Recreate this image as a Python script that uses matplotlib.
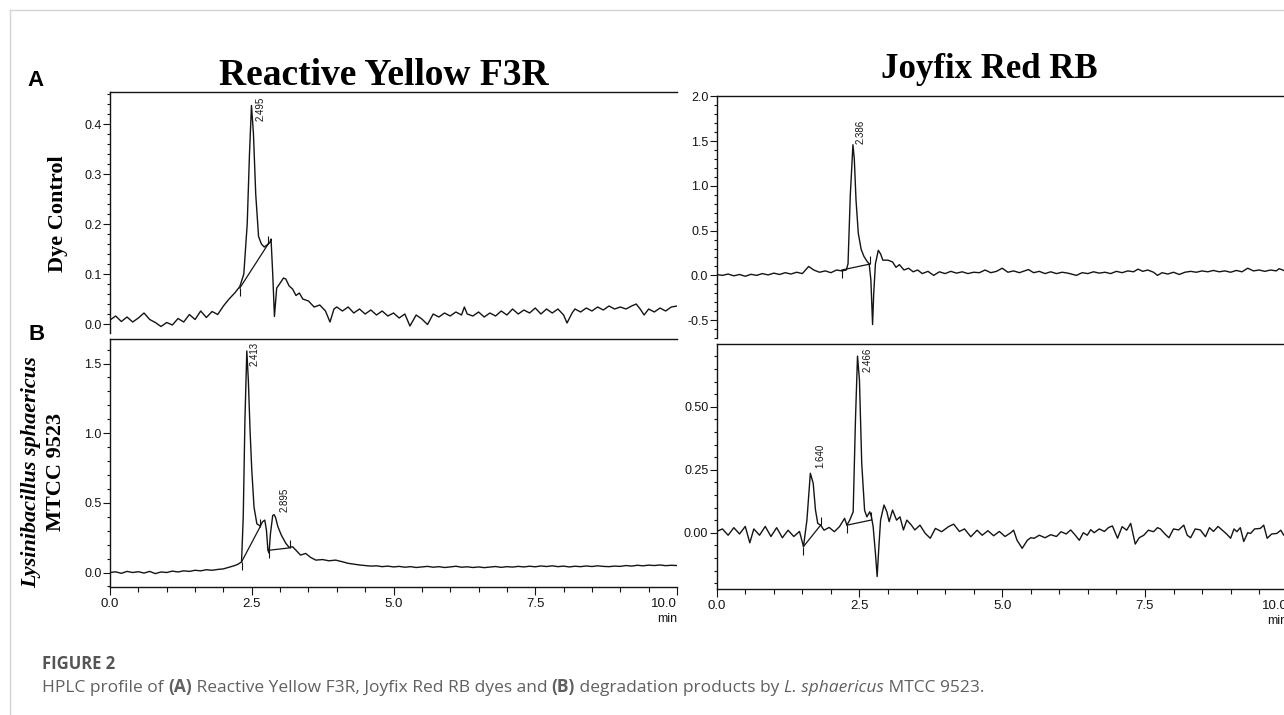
import numpy as np
import matplotlib
matplotlib.use('Agg')
import matplotlib.pyplot as plt
from matplotlib.ticker import MultipleLocator, FormatStrFormatter
from matplotlib.lines import Line2D

plt.rcParams['axes.unicode_minus'] = False
plt.rcParams['font.family'] = ['Liberation Sans Narrow', 'Liberation Sans', 'DejaVu Sans']

# ---- data (time in min, signal) ----
# Reactive Yellow F3R, dye control
t_ry_ctrl = [0.0, 0.1, 0.2, 0.3, 0.4, 0.5, 0.6, 0.7, 0.8, 0.9, 1.0, 1.1, 1.2, 1.3, 1.4, 1.5,
             1.6, 1.7, 1.8, 1.9, 2.0, 2.1, 2.2, 2.29, 2.36, 2.42, 2.46, 2.495, 2.53, 2.57,
             2.62, 2.67, 2.72, 2.77, 2.82, 2.84, 2.87, 2.9, 2.94, 2.99, 3.06, 3.1, 3.16,
             3.22, 3.28, 3.34, 3.4, 3.5, 3.6, 3.7, 3.8, 3.88, 3.95, 4.0, 4.1, 4.2, 4.3, 4.4,
             4.5, 4.6, 4.7, 4.8, 4.9, 5.0, 5.1, 5.2, 5.29, 5.4, 5.5, 5.6, 5.7, 5.8, 5.9, 6.0,
             6.1, 6.2, 6.25, 6.3, 6.4, 6.5, 6.6, 6.7, 6.8, 6.9, 7.0, 7.1, 7.2, 7.3, 7.4, 7.5,
             7.6, 7.7, 7.8, 7.9, 8.0, 8.06, 8.15, 8.2, 8.3, 8.4, 8.5, 8.6, 8.7, 8.8, 8.9, 9.0,
             9.1, 9.2, 9.28, 9.35, 9.42, 9.5, 9.6, 9.7, 9.8, 9.9, 10.0]
v_ry_ctrl = [0.008, 0.016, 0.005, 0.014, 0.004, 0.012, 0.022, 0.009, 0.003, -0.005, 0.003,
             -0.002, 0.011, 0.004, 0.019, 0.009, 0.026, 0.013, 0.025, 0.019, 0.036, 0.05,
             0.062, 0.075, 0.1, 0.2, 0.34, 0.437, 0.38, 0.26, 0.175, 0.16, 0.154, 0.158,
             0.163, 0.17, 0.1, 0.015, 0.072, 0.08, 0.092, 0.09, 0.076, 0.07, 0.057, 0.062,
             0.05, 0.046, 0.034, 0.038, 0.026, 0.004, 0.03, 0.034, 0.026, 0.034, 0.022, 0.03,
             0.02, 0.028, 0.018, 0.026, 0.016, 0.022, 0.012, 0.02, -0.004, 0.018, 0.01,
             -0.001, 0.02, 0.014, 0.022, 0.016, 0.024, 0.018, 0.034, 0.02, 0.016, 0.024,
             0.014, 0.022, 0.016, 0.026, 0.018, 0.03, 0.02, 0.028, 0.022, 0.032, 0.02, 0.03,
             0.022, 0.03, 0.018, 0.002, 0.022, 0.03, 0.024, 0.032, 0.026, 0.034, 0.028, 0.036,
             0.03, 0.034, 0.03, 0.036, 0.04, 0.03, 0.018, 0.03, 0.024, 0.032, 0.026, 0.034,
             0.036]

# Joyfix Red RB, dye control
t_jr_ctrl = [0.0, 0.1, 0.2, 0.3, 0.4, 0.5, 0.6, 0.7, 0.8, 0.9, 1.0, 1.1, 1.2, 1.3, 1.4, 1.5,
             1.61, 1.7, 1.8, 1.9, 2.0, 2.1, 2.19, 2.27, 2.3, 2.34, 2.386, 2.41, 2.44, 2.48,
             2.53, 2.58, 2.64, 2.67, 2.7, 2.73, 2.75, 2.78, 2.83, 2.87, 2.91, 3.0, 3.08, 3.14,
             3.2, 3.28, 3.36, 3.44, 3.52, 3.6, 3.7, 3.8, 3.9, 4.0, 4.1, 4.2, 4.3, 4.4, 4.5,
             4.6, 4.7, 4.8, 4.9, 5.0, 5.1, 5.2, 5.3, 5.46, 5.55, 5.65, 5.75, 5.85, 5.95, 6.05,
             6.15, 6.3, 6.4, 6.5, 6.6, 6.7, 6.8, 6.9, 7.0, 7.1, 7.2, 7.3, 7.38, 7.46, 7.55,
             7.65, 7.72, 7.8, 7.9, 8.0, 8.1, 8.2, 8.3, 8.4, 8.5, 8.6, 8.7, 8.8, 8.9, 9.0, 9.1,
             9.2, 9.3, 9.4, 9.5, 9.6, 9.7, 9.8, 9.85, 9.95, 10.0]
v_jr_ctrl = [0.01, 0.0, 0.015, -0.005, 0.01, -0.01, 0.012, 0.0, 0.02, 0.005, 0.025, 0.01,
             0.03, 0.015, 0.035, 0.02, 0.1, 0.06, 0.035, 0.05, 0.03, 0.06, 0.05, 0.06, 0.13,
             0.9, 1.46, 1.3, 0.84, 0.47, 0.29, 0.21, 0.15, 0.13, -0.05, -0.55, -0.2, 0.13,
             0.28, 0.24, 0.17, 0.17, 0.15, 0.09, 0.12, 0.06, 0.08, 0.04, 0.06, 0.02, 0.045,
             0.0, 0.04, 0.02, 0.045, 0.025, 0.04, 0.02, 0.035, 0.03, 0.06, 0.03, 0.045, 0.08,
             0.035, 0.05, 0.03, 0.065, 0.03, 0.045, 0.02, 0.04, 0.02, 0.035, 0.025, 0.0, 0.03,
             0.02, 0.04, 0.025, 0.035, 0.02, 0.045, 0.03, 0.05, 0.04, 0.07, 0.045, 0.06, 0.035,
             0.0, 0.03, 0.015, 0.035, 0.01, 0.035, 0.045, 0.035, 0.05, 0.04, 0.055, 0.04, 0.05,
             0.035, 0.055, 0.04, 0.08, 0.05, 0.06, 0.045, 0.06, 0.05, 0.075, 0.05, 0.06]

# Reactive Yellow F3R after L. sphaericus MTCC 9523
t_ry_ls = [0.0, 0.1, 0.2, 0.3, 0.4, 0.5, 0.6, 0.7, 0.8, 0.9, 1.0, 1.1, 1.2, 1.3, 1.4, 1.5,
           1.6, 1.7, 1.8, 1.9, 2.0, 2.1, 2.2, 2.26, 2.32, 2.35, 2.38, 2.413, 2.44, 2.47, 2.5,
           2.54, 2.59, 2.65, 2.69, 2.73, 2.76, 2.785, 2.805, 2.83, 2.87, 2.895, 2.92, 2.96,
           3.02, 3.1, 3.16, 3.22, 3.28, 3.36, 3.45, 3.54, 3.63, 3.75, 3.86, 3.98, 4.1, 4.2,
           4.3, 4.4, 4.5, 4.6, 4.7, 4.8, 4.9, 5.0, 5.1, 5.2, 5.3, 5.4, 5.5, 5.6, 5.7, 5.8,
           5.9, 6.0, 6.1, 6.2, 6.3, 6.4, 6.5, 6.6, 6.7, 6.8, 6.9, 7.0, 7.1, 7.2, 7.3, 7.4,
           7.5, 7.6, 7.7, 7.8, 7.9, 8.0, 8.1, 8.2, 8.3, 8.4, 8.5, 8.6, 8.7, 8.8, 8.9, 9.0,
           9.1, 9.2, 9.3, 9.4, 9.5, 9.6, 9.7, 9.8, 9.9, 10.0]
v_ry_ls = [0.0, 0.005, -0.006, 0.008, 0.0, 0.006, -0.004, 0.008, -0.008, 0.004, 0.0, 0.01,
           0.004, 0.012, 0.008, 0.016, 0.012, 0.02, 0.016, 0.022, 0.026, 0.038, 0.05, 0.06,
           0.076, 0.4, 1.1, 1.59, 1.38, 1.02, 0.74, 0.47, 0.35, 0.333, 0.364, 0.376, 0.3,
           0.16, 0.14, 0.28, 0.41, 0.415, 0.395, 0.33, 0.27, 0.21, 0.18, 0.185, 0.16, 0.125,
           0.137, 0.108, 0.089, 0.093, 0.084, 0.089, 0.077, 0.066, 0.06, 0.054, 0.05, 0.046,
           0.048, 0.042, 0.046, 0.04, 0.044, 0.038, 0.042, 0.036, 0.04, 0.044, 0.038, 0.042,
           0.036, 0.04, 0.045, 0.038, 0.041, 0.036, 0.04, 0.035, 0.039, 0.043, 0.037, 0.042,
           0.039, 0.044, 0.04, 0.045, 0.041, 0.047, 0.043, 0.048, 0.042, 0.046, 0.04, 0.045,
           0.042, 0.047, 0.043, 0.048, 0.044, 0.042, 0.046, 0.044, 0.05, 0.046, 0.052, 0.048,
           0.053, 0.05, 0.054, 0.049, 0.052, 0.05]

# Joyfix Red RB after L. sphaericus MTCC 9523
t_jr_ls = [0.0, 0.1, 0.2, 0.3, 0.4, 0.5, 0.58, 0.65, 0.75, 0.85, 0.95, 1.05, 1.15, 1.25, 1.35,
           1.45, 1.52, 1.58, 1.64, 1.69, 1.73, 1.77, 1.82, 1.88, 1.97, 2.06, 2.15, 2.24, 2.28,
           2.33, 2.39, 2.43, 2.466, 2.5, 2.54, 2.59, 2.63, 2.68, 2.71, 2.74, 2.78, 2.81, 2.84,
           2.87, 2.93, 2.98, 3.02, 3.08, 3.15, 3.21, 3.27, 3.33, 3.41, 3.47, 3.56, 3.65, 3.74,
           3.83, 3.94, 4.06, 4.15, 4.25, 4.34, 4.45, 4.56, 4.65, 4.75, 4.85, 4.95, 5.05, 5.15,
           5.2, 5.26, 5.35, 5.44, 5.5, 5.56, 5.65, 5.75, 5.85, 5.95, 6.03, 6.12, 6.2, 6.28,
           6.35, 6.42, 6.49, 6.55, 6.61, 6.7, 6.79, 6.86, 6.93, 7.02, 7.1, 7.18, 7.25, 7.33,
           7.4, 7.48, 7.56, 7.65, 7.72, 7.77, 7.85, 7.92, 8.0, 8.09, 8.18, 8.24, 8.3, 8.38,
           8.47, 8.56, 8.63, 8.7, 8.78, 8.85, 8.93, 9.0, 9.06, 9.11, 9.17, 9.23, 9.3, 9.35,
           9.42, 9.52, 9.58, 9.64, 9.72, 9.81, 9.88, 9.93, 10.0]
v_jr_ls = [0.005, 0.015, -0.01, 0.02, -0.005, 0.025, -0.04, 0.015, -0.01, 0.025, -0.015, 0.02,
           -0.02, 0.01, -0.015, 0.005, -0.055, 0.05, 0.236, 0.196, 0.09, 0.037, 0.03, 0.01,
           0.021, 0.004, 0.024, 0.057, 0.03, 0.05, 0.083, 0.447, 0.701, 0.606, 0.275, 0.089,
           0.063, 0.083, 0.063, 0.024, -0.082, -0.174, -0.056, 0.05, 0.11, 0.083, 0.044, 0.09,
           0.05, 0.063, 0.011, 0.05, 0.03, 0.011, 0.03, -0.002, -0.022, 0.017, 0.004, 0.024,
           0.034, 0.005, 0.015, -0.016, 0.01, -0.01, 0.008, -0.012, 0.005, -0.015, 0.0, 0.01,
           -0.03, -0.062, -0.03, -0.02, -0.022, -0.01, -0.02, -0.008, -0.015, 0.004, -0.005,
           0.011, -0.01, -0.03, 0.0, -0.01, 0.012, 0.0, 0.015, 0.005, 0.02, 0.027, -0.022,
           0.024, 0.01, 0.037, -0.045, -0.02, -0.01, 0.01, 0.004, 0.02, 0.015, -0.005, -0.02,
           0.015, 0.011, 0.03, -0.01, -0.02, 0.015, 0.011, -0.016, 0.02, 0.005, 0.025, 0.011,
           -0.005, -0.022, 0.015, 0.004, 0.02, -0.035, 0.0, -0.003, 0.015, 0.017, 0.03, -0.022,
           -0.005, -0.003, 0.01, -0.01, 0.0]

# labelled retention times
peaks_ry_ctrl = [2.495]
peaks_jr_ctrl = [2.386]
peaks_ry_ls = [2.413, 2.895]
peaks_jr_ls = [1.640, 2.466]

# integration baselines: (t_start, v_start, t_end, v_end)
base_ry_ctrl = [(2.29, 0.072, 2.79, 0.16)]
base_jr_ctrl = [(2.19, 0.06, 2.68, 0.126)]
base_ry_ls = [(2.32, 0.076, 2.65, 0.33), (2.81, 0.16, 3.17, 0.177)]
base_jr_ls = [(1.52, -0.055, 1.82, 0.03), (2.28, 0.03, 2.70, 0.05)]

x_ticks = [0.0, 2.5, 5.0, 7.5, 10.0]
x_tick_labels = ['0.0', '2.5', '5.0', '7.5', '10.0']

W, H = 1284, 715
fig = plt.figure(figsize=(W / 100, H / 100), dpi=100)


def rect(x0, y0, x1, y1):
    return [x0 / W, 1 - y1 / H, (x1 - x0) / W, (y1 - y0) / H]


panels = [
    dict(t=t_ry_ctrl, v=v_ry_ctrl, pos=rect(110, 92, 677, 333), ylim=(-0.018, 0.464),
         major=0.1, minor=0.02, fmt='%.1f', peaks=peaks_ry_ctrl, lab_off=[(4, -15)],
         base=base_ry_ctrl, xaxis=False),
    dict(t=t_jr_ctrl, v=v_jr_ctrl, pos=rect(716.7, 96, 1287.7, 338), ylim=(-0.70, 2.005),
         major=0.5, minor=0.1, fmt='%.1f', peaks=peaks_jr_ctrl, lab_off=[(2.5, 1)],
         base=base_jr_ctrl, xaxis=False),
    dict(t=t_ry_ls, v=v_ry_ls, pos=rect(110, 339, 677, 587), ylim=(-0.104, 1.676),
         major=0.5, minor=0.1, fmt='%.1f', peaks=peaks_ry_ls, lab_off=[(2.5, -15), (5, 3)],
         base=base_ry_ls, xaxis=True),
    dict(t=t_jr_ls, v=v_jr_ls, pos=rect(716.7, 344, 1287.7, 589.3), ylim=(-0.2246, 0.749),
         major=0.25, minor=0.05, fmt='%.2f', peaks=peaks_jr_ls, lab_off=[(5, 5), (5, -16)],
         base=base_jr_ls, xaxis=True),
]

ink = '#141414'
for p in panels:
    ax = fig.add_axes(p['pos'])
    ax.plot(p['t'], p['v'], color=ink, lw=1.0)
    for (t0, v0, t1, v1) in p['base']:
        ax.plot([t0, t1], [v0, v1], color=ink, lw=0.9)
        ax.plot([t0], [v0], color=ink, marker=3, ms=6, mew=0.8)
        ax.plot([t1], [v1], color=ink, marker=2, ms=6, mew=0.8)
    for pk, (dx, dy) in zip(p['peaks'], p['lab_off']):
        apex = np.interp(pk, p['t'], p['v'])
        ax.annotate('%.3f' % pk, xy=(pk, apex), xytext=(dx * 0.72, dy * 0.72),
                    textcoords='offset points', rotation=90, ha='left', va='bottom',
                    fontsize=7, color=ink, family=['Liberation Sans', 'DejaVu Sans'])

    ax.set_xlim(0, 10)
    ax.set_ylim(*p['ylim'])
    ax.patch.set_alpha(0)
    ax.spines['right'].set_visible(False)
    for s in ['left', 'top', 'bottom']:
        ax.spines[s].set_color(ink)
        ax.spines[s].set_linewidth(1.0)
    ax.yaxis.set_major_locator(MultipleLocator(p['major']))
    ax.yaxis.set_minor_locator(MultipleLocator(p['minor']))
    ax.yaxis.set_major_formatter(FormatStrFormatter(p['fmt']))
    ax.tick_params(axis='y', which='major', direction='out', length=5, width=0.8,
                   labelsize=9, pad=1, colors=ink)
    ax.tick_params(axis='y', which='minor', direction='out', length=2.5, width=0.8,
                   colors=ink)
    if p['xaxis']:
        ax.set_xticks(x_ticks)
        labs = ax.set_xticklabels(x_tick_labels)
        labs[-1].set_horizontalalignment('right')
        ax.xaxis.set_minor_locator(MultipleLocator(0.5))
        ax.tick_params(axis='x', which='major', direction='out', length=6, width=0.8,
                       labelsize=9.5, pad=2, colors=ink)
        ax.tick_params(axis='x', which='minor', direction='out', length=3.5, width=0.8,
                       colors=ink)
        ax.text(1.0, -0.105, 'min', transform=ax.transAxes, ha='right', va='top',
                fontsize=9, color=ink)
    else:
        ax.spines['bottom'].set_visible(False)
        ax.set_xticks([])
        ax.tick_params(axis='x', which='both', bottom=False, labelbottom=False)

serif = ['Liberation Serif', 'DejaVu Serif']
fig.text(384 / W, 1 - 85 / H, 'Reactive Yellow F3R', ha='center', va='baseline',
         fontsize=27, fontweight='bold', family=serif, color='black')
fig.text(989 / W, 1 - 78 / H, 'Joyfix Red RB', ha='center', va='baseline',
         fontsize=25, fontweight='bold', family=serif, color='black')
fig.text(58 / W, 1 - 214 / H, 'Dye Control', ha='center', va='center', rotation=90,
         fontsize=16, fontweight='bold', family=serif)
fig.text(31 / W, 1 - 472 / H, 'Lysinibacillus sphaericus', ha='center', va='center',
         rotation=90, fontsize=16, fontweight='bold', style='italic', family=serif)
fig.text(56 / W, 1 - 472 / H, 'MTCC 9523', ha='center', va='center', rotation=90,
         fontsize=16, fontweight='bold', family=serif)

sans = ['Liberation Sans', 'DejaVu Sans']
fig.text(36 / W, 1 - 80 / H, 'A', ha='center', va='center', fontsize=16,
         fontweight='bold', family=sans)
fig.text(37 / W, 1 - 334 / H, 'B', ha='center', va='center', fontsize=16,
         fontweight='bold', family=sans)

# card border
fig.add_artist(Line2D([9.5 / W, 9.5 / W], [0, 1 - 9.5 / H], color='#d4d4d4', lw=1.0))
fig.add_artist(Line2D([9.5 / W, 1], [1 - 9.5 / H, 1 - 9.5 / H], color='#d4d4d4', lw=1.0))

# caption
cap_font = ['Open Sans', 'Noto Sans', 'DejaVu Sans']
fig.text(41.7 / W, 1 - 669 / H, 'FIGURE 2', ha='left', va='baseline', fontsize=12,
         fontweight='bold', family=cap_font, color='#555555')
pieces = [('HPLC profile of ', 'normal', 'normal'), ('(A)', 'bold', 'normal'),
          (' Reactive Yellow F3R, Joyfix Red RB dyes and ', 'normal', 'normal'),
          ('(B)', 'bold', 'normal'), (' degradation products by ', 'normal', 'normal'),
          ('L. sphaericus', 'normal', 'italic'), (' MTCC 9523.', 'normal', 'normal')]
renderer = fig.canvas.get_renderer()
xpix = 41.7
for txt, wt, st in pieces:
    tx = fig.text(xpix / W, 1 - 692 / H, txt, ha='left', va='baseline', fontsize=12.5,
                  fontweight=wt, style=st, family=cap_font, color='#606060')
    bb = tx.get_window_extent(renderer)
    xpix = bb.x1

fig.savefig('out.png', dpi=100)
